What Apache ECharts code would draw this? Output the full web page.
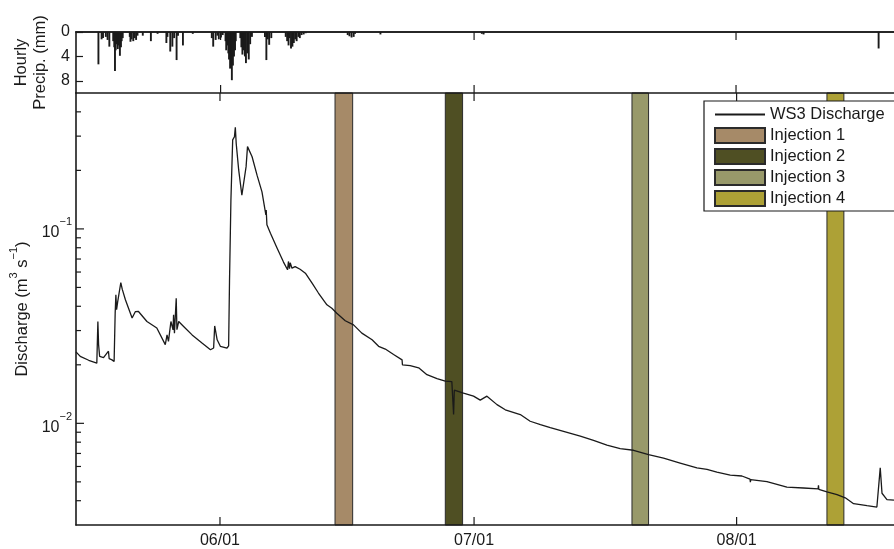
<!DOCTYPE html>
<html>
<head>
<meta charset="utf-8">
<script src="https://cdn.jsdelivr.net/npm/echarts@6/dist/echarts.min.js"></script>
<style>
  html, body { margin: 0; padding: 0; background: #fff; }
  #chart { width: 894px; height: 549px; }
</style>
</head>
<body>
<div id="chart"></div>
<script>
// ---- data -------------------------------------------------------------
const YEAR = 2012;
const axisStart = '05-15 00:00';
const axisEnd = '08-19 14:00';
const monthTicks = ['06-01 00:00', '07-01 00:00', '08-01 00:00'];

// hourly precipitation (mm)
const precipHourly = [
  ['05-17 13:00', 5.3], ['05-17 22:00', 1.2], ['05-18 02:00', 1.0], ['05-18 10:00', 0.8],
  ['05-18 15:00', 1.3], ['05-18 20:00', 2.4], ['05-19 07:00', 1.5], ['05-19 10:00', 2.5],
  ['05-19 12:00', 6.4], ['05-19 14:00', 3.0], ['05-19 17:00', 2.0], ['05-19 20:00', 2.8],
  ['05-19 23:00', 2.2], ['05-20 02:00', 3.9], ['05-20 05:00', 2.5], ['05-20 07:00', 1.5],
  ['05-20 10:00', 1.0], ['05-21 06:00', 0.8], ['05-21 08:00', 1.6], ['05-21 11:00', 1.2],
  ['05-21 16:00', 1.5], ['05-21 20:00', 1.0], ['05-22 00:00', 1.3], ['05-22 04:00', 0.6],
  ['05-22 19:00', 0.6], ['05-23 18:00', 1.5], ['05-24 13:00', 0.3], ['05-25 14:00', 1.8],
  ['05-25 17:00', 0.8], ['05-26 01:00', 3.2], ['05-26 07:00', 2.4], ['05-26 12:00', 1.0],
  ['05-26 19:00', 4.6], ['05-26 23:00', 0.6], ['05-27 13:00', 2.2], ['05-28 17:00', 0.3],
  ['05-30 23:00', 1.0], ['05-31 03:00', 2.4], ['05-31 10:00', 1.3], ['05-31 15:00', 0.6],
  ['05-31 19:00', 1.2], ['06-01 01:00', 0.9], ['06-01 06:00', 0.5], ['06-01 14:00', 1.5],
  ['06-01 16:00', 3.0], ['06-01 19:00', 2.2], ['06-01 22:00', 3.5], ['06-02 00:00', 4.5],
  ['06-02 03:00', 6.0], ['06-02 06:00', 5.0], ['06-02 08:00', 7.9], ['06-02 11:00', 5.5],
  ['06-02 14:00', 4.0], ['06-02 17:00', 3.0], ['06-02 19:00', 1.5], ['06-03 08:00', 1.0],
  ['06-03 11:00', 2.5], ['06-03 14:00', 3.7], ['06-03 18:00', 3.0], ['06-03 21:00', 4.0],
  ['06-04 00:00', 5.1], ['06-04 04:00', 3.5], ['06-04 08:00', 4.5], ['06-04 12:00', 2.0],
  ['06-04 17:00', 0.8], ['06-06 06:00', 0.8], ['06-06 10:00', 4.6], ['06-06 14:00', 1.2],
  ['06-06 18:00', 2.1], ['06-07 00:00', 1.0], ['06-08 17:00', 0.8], ['06-08 21:00', 1.5],
  ['06-09 01:00', 2.2], ['06-09 04:00', 1.0], ['06-09 08:00', 2.7], ['06-09 12:00', 2.4],
  ['06-09 16:00', 1.8], ['06-09 20:00', 1.2], ['06-10 00:00', 1.5], ['06-10 05:00', 0.8],
  ['06-10 09:00', 1.0], ['06-10 14:00', 0.5], ['06-10 20:00', 0.4], ['06-11 02:00', 0.2],
  ['06-16 01:00', 0.5], ['06-16 06:00', 0.7], ['06-16 12:00', 0.9], ['06-16 18:00', 0.8],
  ['06-16 22:00', 0.3], ['06-19 22:00', 0.4], ['07-01 22:00', 0.3], ['07-02 03:00', 0.4],
  ['08-17 21:00', 2.7]
];

// WS3 discharge (m3/s)
const ws3Discharge = [
  ['05-15 00:00', 0.0233], ['05-15 12:00', 0.0221], ['05-16 12:00', 0.0211], ['05-17 11:00', 0.0204],
  ['05-17 14:00', 0.0334], ['05-17 16:00', 0.0254], ['05-17 19:00', 0.0221], ['05-18 06:00', 0.0218],
  ['05-18 20:00', 0.0235], ['05-18 22:00', 0.0215], ['05-19 06:00', 0.0212], ['05-19 12:00', 0.0208],
  ['05-19 15:00', 0.0369], ['05-19 17:00', 0.0458], ['05-19 19:00', 0.0384], ['05-19 22:00', 0.0420],
  ['05-20 07:00', 0.0530], ['05-20 11:00', 0.0490], ['05-20 20:00', 0.0432], ['05-21 15:00', 0.0348],
  ['05-21 18:00', 0.0355], ['05-22 00:00', 0.0375], ['05-22 09:00', 0.0376], ['05-23 09:00', 0.0334],
  ['05-24 13:00', 0.0309], ['05-25 13:00', 0.0254], ['05-25 18:00', 0.0285], ['05-25 22:00', 0.0264],
  ['05-26 05:00', 0.0334], ['05-26 11:00', 0.0303], ['05-26 12:30', 0.0362], ['05-26 15:00', 0.0291],
  ['05-26 20:00', 0.0440], ['05-26 22:00', 0.0303], ['05-27 03:00', 0.0334], ['05-27 17:00', 0.0315],
  ['05-28 17:00', 0.0285], ['05-29 21:00', 0.0259], ['05-30 21:00', 0.0239], ['05-31 06:00', 0.0244],
  ['05-31 09:00', 0.0317], ['05-31 16:00', 0.0269], ['06-01 01:00', 0.0249], ['06-01 20:00', 0.0244],
  ['06-02 00:30', 0.0250], ['06-02 03:00', 0.0536], ['06-02 07:00', 0.141], ['06-02 12:00', 0.287],
  ['06-02 17:00', 0.298], ['06-02 19:30', 0.333], ['06-02 22:00', 0.275], ['06-03 05:00', 0.201],
  ['06-03 14:00', 0.149], ['06-03 19:00', 0.152], ['06-04 02:00', 0.209], ['06-04 06:00', 0.265],
  ['06-04 11:00', 0.267], ['06-04 19:00', 0.235], ['06-05 09:00', 0.189], ['06-05 23:00', 0.155],
  ['06-06 10:00', 0.118], ['06-06 11:00', 0.125], ['06-06 13:00', 0.105], ['06-06 23:00', 0.095],
  ['06-07 18:00', 0.0796], ['06-08 12:00', 0.0675], ['06-08 23:30', 0.0616], ['06-09 02:00', 0.0680],
  ['06-09 05:00', 0.0625], ['06-09 07:00', 0.0670], ['06-09 12:00', 0.0628], ['06-09 21:00', 0.0640],
  ['06-10 11:00', 0.0620], ['06-11 02:00', 0.0592], ['06-11 21:00', 0.0526], ['06-12 15:00', 0.0468],
  ['06-13 15:00', 0.0407], ['06-14 05:00', 0.0391], ['06-14 19:00', 0.0368], ['06-15 19:00', 0.0337],
  ['06-16 18:30', 0.0321], ['06-17 18:00', 0.0291], ['06-18 23:00', 0.0269], ['06-19 17:30', 0.0249],
  ['06-20 12:30', 0.0241], ['06-21 12:00', 0.0226], ['06-22 12:00', 0.0212], ['06-22 13:00', 0.0200],
  ['06-23 11:00', 0.0198], ['06-24 11:00', 0.0193], ['06-25 10:30', 0.0178], ['06-26 15:00', 0.0170],
  ['06-27 14:30', 0.0165], ['06-28 09:00', 0.0164], ['06-28 14:00', 0.0111], ['06-28 16:00', 0.0148],
  ['06-29 18:00', 0.0143], ['06-30 22:30', 0.0138], ['07-01 17:30', 0.01317], ['07-02 12:30', 0.0138],
  ['07-03 17:00', 0.01248], ['07-04 16:30', 0.01174], ['07-06 11:00', 0.0111], ['07-07 15:00', 0.01025],
  ['07-08 20:00', 0.00985], ['07-10 00:00', 0.0095], ['07-11 13:30', 0.00909], ['07-13 13:00', 0.00859],
  ['07-15 02:30', 0.00818], ['07-16 16:30', 0.00773], ['07-18 06:00', 0.00741], ['07-19 20:00', 0.00727],
  ['07-21 14:30', 0.00690], ['07-23 09:00', 0.00662], ['07-25 08:00', 0.00625], ['07-27 07:30', 0.00590],
  ['07-28 12:00', 0.00579], ['07-29 16:00', 0.00561], ['07-31 06:00', 0.00542], ['08-01 15:00', 0.00536],
  ['08-02 14:00', 0.00516], ['08-02 15:00', 0.00498], ['08-02 16:00', 0.00514], ['08-04 14:00', 0.00502],
  ['08-06 22:30', 0.00470], ['08-08 21:30', 0.00465], ['08-10 15:00', 0.00460], ['08-10 16:00', 0.00480],
  ['08-10 17:00', 0.00458], ['08-11 16:00', 0.00444], ['08-12 20:30', 0.00430], ['08-13 20:00', 0.00414],
  ['08-14 19:30', 0.00386], ['08-16 09:30', 0.00377], ['08-17 13:30', 0.00371], ['08-17 23:00', 0.00590],
  ['08-18 04:00', 0.00437], ['08-18 18:00', 0.00405], ['08-19 14:00', 0.00403]
];

// tracer injection windows
const injectionNames = ['Injection 1', 'Injection 2', 'Injection 3', 'Injection 4'];
const injectionStart = ['06-14 14:00', '06-27 14:30', '07-19 15:30', '08-11 16:00'];
const injectionEnd   = ['06-16 16:00', '06-29 15:30', '07-21 14:30', '08-13 16:00'];

// log-axis tick values
const logMajorTicks = [0.01, 0.1];
const logMinorTicks = [0.004, 0.005, 0.006, 0.007, 0.008, 0.009,
                       0.02, 0.03, 0.04, 0.05, 0.06, 0.07, 0.08, 0.09,
                       0.2, 0.3, 0.4];

// ---- styling ----------------------------------------------------------
const injectionColors = ['#a68a68', '#4f4f23', '#98996a', '#ada136'];
const FONT = "'Liberation Sans', Arial, Helvetica, sans-serif";
const INK = '#1a1a1a';

function ts(s) {
  const [md, hm] = s.split(' ');
  const [mo, d] = md.split('-').map(Number);
  const [h, mi] = hm.split(':').map(Number);
  return new Date(YEAR, mo - 1, d, h, mi).getTime();
}
const xMin = ts(axisStart), xMax = ts(axisEnd);

function pad(n) { return (n < 10 ? '0' : '') + n; }
function monthLabel(v) { const d = new Date(v); return pad(d.getMonth() + 1) + '/' + pad(d.getDate()); }

const axisLine = { show: true, lineStyle: { color: INK, width: 1.6 } };
function timeAxis(gridIndex, position) {
  return {
    type: 'time', gridIndex, position, min: xMin, max: xMax, z: 5,
    axisLine: axisLine,
    axisTick: { show: false },
    axisLabel: { show: false },
    splitLine: { show: false }
  };
}

const chart = echarts.init(document.getElementById('chart'), null, { renderer: 'canvas' });

const series = [];

// precipitation bars
series.push({
  name: 'Hourly Precip.', type: 'bar', xAxisIndex: 0, yAxisIndex: 0,
  barWidth: 1.9, itemStyle: { color: INK }, silent: true,
  data: precipHourly.map(p => [ts(p[0]), p[1]])
});

// injection windows
injectionNames.forEach((name, i) => {
  series.push({
    name, type: 'custom', xAxisIndex: 2, yAxisIndex: 1, z: 2, silent: true,
    itemStyle: { color: injectionColors[i], borderColor: '#2b2b2b', borderWidth: 1 },
    encode: { x: [0, 1], y: 2 },
    data: [[ts(injectionStart[i]), ts(injectionEnd[i]), 0.01]],
    renderItem: (params, api) => {
      const cs = params.coordSys;
      const x0 = api.coord([api.value(0), 0.01])[0];
      const x1 = api.coord([api.value(1), 0.01])[0];
      return {
        type: 'rect',
        shape: { x: x0, y: cs.y, width: x1 - x0, height: cs.height },
        style: { fill: injectionColors[i], stroke: '#2b2b2b', lineWidth: 1 }
      };
    }
  });
});

// discharge line
series.push({
  name: 'WS3 Discharge', type: 'line', xAxisIndex: 2, yAxisIndex: 1, z: 4,
  showSymbol: false, symbol: 'none', silent: true,
  lineStyle: { color: INK, width: 1.3 }, itemStyle: { color: INK },
  data: ws3Discharge.map(p => [ts(p[0]), p[1]])
});

// inward ticks on the log axis (decades and 2..9 subdivisions)
series.push({
  name: 'logTicks', type: 'custom', xAxisIndex: 2, yAxisIndex: 1, z: 6, silent: true,
  encode: { x: 0, y: 1 },
  data: logMajorTicks.map(v => [xMin, v, 8]).concat(logMinorTicks.map(v => [xMin, v, 5])),
  renderItem: (params, api) => {
    const cs = params.coordSys;
    const y = api.coord([api.value(0), api.value(1)])[1];
    const len = api.value(2);
    return {
      type: 'line',
      shape: { x1: cs.x, y1: y, x2: cs.x + len, y2: y },
      style: { stroke: INK, lineWidth: 1.2 }
    };
  }
});

// month ticks (top and bottom, inward) for both panels, labels under the lower panel
[[0, 0, false], [2, 1, true]].forEach(([xi, yi, withLabel]) => {
  series.push({
    name: 'monthTicks' + xi, type: 'custom', xAxisIndex: xi, yAxisIndex: yi, z: 6, silent: true,
    encode: { x: 0 },
    data: monthTicks.map(s => [ts(s)]),
    renderItem: (params, api) => {
      const cs = params.coordSys;
      const x = api.coord([api.value(0), yi === 1 ? 0.01 : 1])[0];
      const children = [
        { type: 'line', shape: { x1: x, y1: cs.y, x2: x, y2: cs.y + 8 },
          style: { stroke: INK, lineWidth: 1.2 } },
        { type: 'line', shape: { x1: x, y1: cs.y + cs.height, x2: x, y2: cs.y + cs.height - 8 },
          style: { stroke: INK, lineWidth: 1.2 } }
      ];
      if (withLabel) {
        children.push({
          type: 'text',
          style: { x: x, y: cs.y + cs.height + 8, text: monthLabel(api.value(0)),
                   align: 'center', verticalAlign: 'top',
                   font: '16px ' + FONT, fill: INK }
        });
      }
      return { type: 'group', children };
    }
  });
});

const option = {
  animation: false,
  backgroundColor: '#fff',
  textStyle: { fontFamily: FONT },
  grid: [
    { left: 76, right: 0, top: 32, height: 61 },
    { left: 76, right: 0, top: 93, bottom: 24 }
  ],
  xAxis: [
    timeAxis(0, 'bottom'),
    timeAxis(0, 'top'),
    timeAxis(1, 'bottom'),
    timeAxis(1, 'top')
  ],
  yAxis: [
    {
      type: 'value', gridIndex: 0, inverse: true, min: 0, max: 10, interval: 4, z: 5,
      axisLine: axisLine,
      axisTick: { show: true, inside: true, length: 7, lineStyle: { color: INK, width: 1.2 } },
      axisLabel: { fontFamily: FONT, fontSize: 16, color: INK, margin: 6, showMaxLabel: false,
                   formatter: v => (v % 4 === 0 ? String(v) : '') },
      splitLine: { show: false },
      name: 'Hourly\nPrecip. (mm)', nameLocation: 'middle', nameRotate: 90, nameGap: 23,
      nameTextStyle: { fontFamily: FONT, fontSize: 16.5, color: INK, lineHeight: 19 }
    },
    {
      type: 'log', logBase: 10, gridIndex: 1, min: 0.003, max: 0.5, z: 5,
      axisLine: axisLine,
      axisTick: { show: false },
      axisLabel: {
        margin: 4, color: INK,
        formatter: v => {
          const e = Math.log10(v);
          if (Math.abs(e - Math.round(e)) > 1e-6) return '';
          const n = Math.round(e);
          return '{b|10}{s|' + (n < 0 ? '\u2212' + (-n) : n) + '}';
        },
        rich: {
          b: { fontFamily: FONT, fontSize: 16, color: INK, lineHeight: 24, verticalAlign: 'bottom' },
          s: { fontFamily: FONT, fontSize: 11, color: INK, lineHeight: 10, verticalAlign: 'top' }
        }
      },
      splitLine: { show: false },
      name: '{n|Discharge (m}{s|3}{n| s}{s|\u22121}{n|)}',
      nameLocation: 'middle', nameRotate: 90, nameGap: 43,
      nameTextStyle: {
        rich: {
          n: { fontFamily: FONT, fontSize: 16.5, color: INK, lineHeight: 22, verticalAlign: 'bottom' },
          s: { fontFamily: FONT, fontSize: 11, color: INK, lineHeight: 10, verticalAlign: 'top' }
        }
      }
    }
  ],
  // legend frame: runs off the right edge of the page
  graphic: [{
    type: 'rect', z: 8, silent: true,
    shape: { x: 704, y: 101, width: 240, height: 110 },
    style: { fill: '#fff', stroke: INK, lineWidth: 1.2 }
  }],
  legend: {
    orient: 'vertical', left: 704, top: 101,
    itemWidth: 50, itemHeight: 15, itemGap: 4,
    padding: [5, 10, 4, 10],
    backgroundColor: 'transparent', borderWidth: 0,
    selectedMode: false, z: 10,
    textStyle: { fontFamily: FONT, fontSize: 16.5, color: INK, lineHeight: 17 },
    data: [
      { name: 'WS3 Discharge', itemStyle: { opacity: 0 } },
      ...injectionNames.map(n => ({ name: n, icon: 'rect' }))
    ]
  },
  series
};

chart.setOption(option);
</script>
</body>
</html>
